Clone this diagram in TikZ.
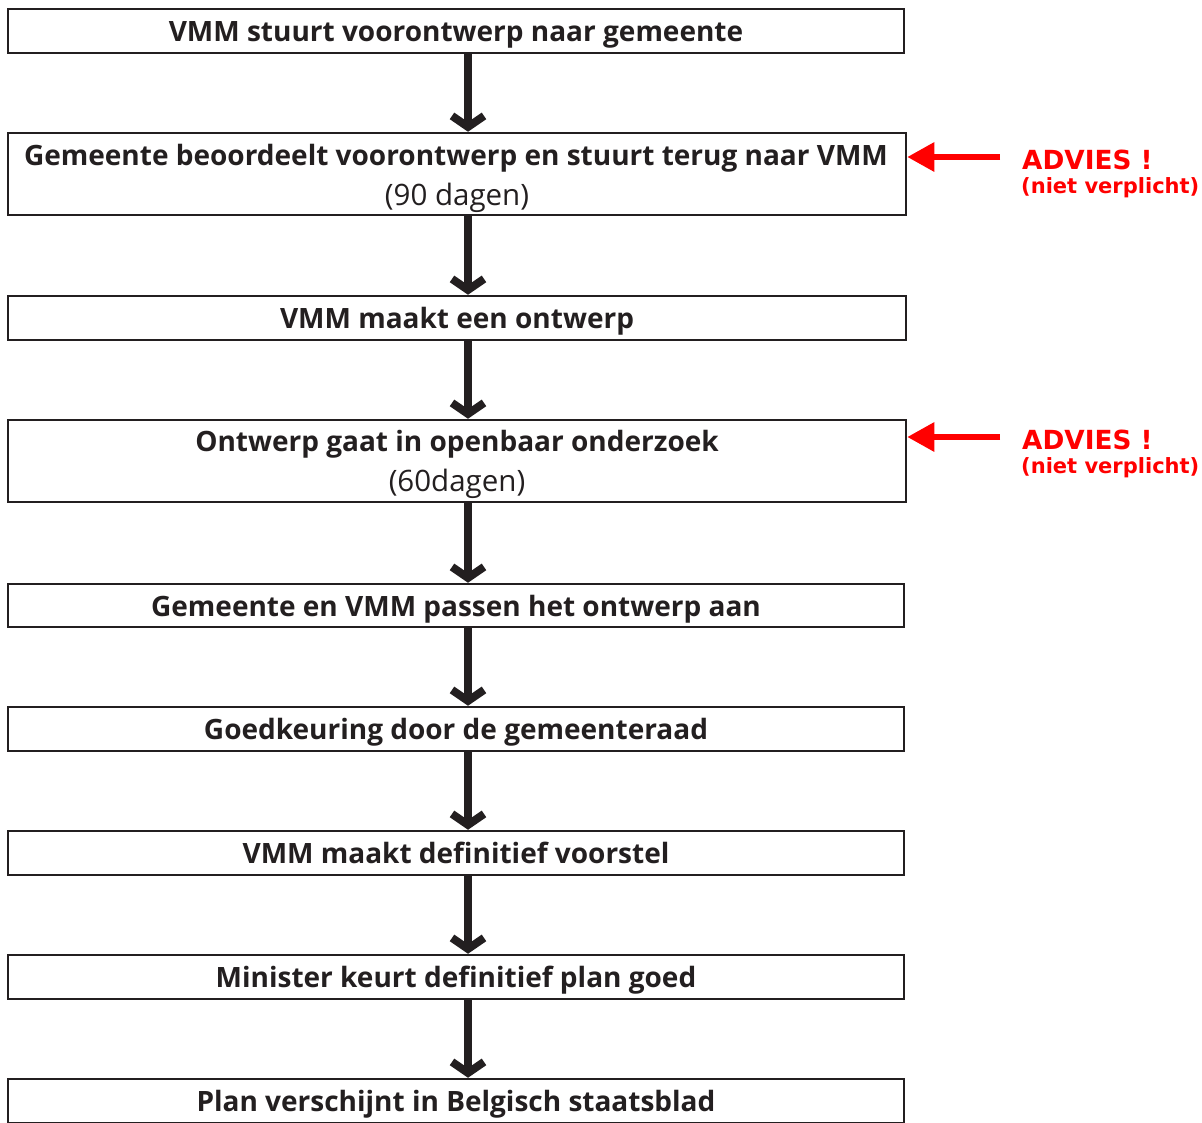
\documentclass[tikz,border=0pt]{standalone}
\usepackage{fontspec}
\setmainfont{Open Sans}
\newfontfamily\redfont{DejaVu Sans}
\usetikzlibrary{arrows.meta,calc}
\definecolor{ink}{HTML}{231F20}
\definecolor{advred}{HTML}{FF0000}
\tikzset{
  stepbox/.style={draw=ink, line width=2.5pt, minimum width=896pt, minimum height=44pt,
    inner sep=0pt},
  steptext/.style={anchor=base, inner sep=0pt, text=ink, font=\fontsize{28}{32}\selectfont\bfseries},
  subtext/.style={anchor=base, inner sep=0pt, text=ink, font=\fontsize{29.5}{33}\selectfont\mdseries},
  flowarrow/.style={draw=ink, line width=8pt,
    -{Straight Barb[length=11pt,width=32pt,line width=8pt]}},
  advarrow/.style={draw=advred, line width=6pt, -{Triangle[length=27pt,width=28pt]}},
  advbig/.style={text=advred, anchor=base west, inner sep=0pt, font=\redfont\bfseries\fontsize{26.3}{30}\selectfont},
  advsmall/.style={text=advred, anchor=base west, inner sep=0pt, font=\redfont\bfseries\fontsize{21}{25}\selectfont}
}
\begin{document}
\begin{tikzpicture}[x=1pt,y=-1pt]
\useasboundingbox (0,0) rectangle (1202,1122);
\clip (0,0) rectangle (1202,1122);
% boxes
\node[stepbox] (b1) at (456,31) {};
\node[stepbox, minimum width=898pt, minimum height=82pt] (b2) at (457,174) {};
\node[stepbox, minimum width=898pt] (b3) at (457,318) {};
\node[stepbox, minimum width=898pt, minimum height=82pt] (b4) at (457,461) {};
\node[stepbox, minimum height=43pt] (b5) at (456,605.5) {};
\node[stepbox] (b6) at (456,729) {};
\node[stepbox] (b7) at (456,853) {};
\node[stepbox] (b8) at (456,977) {};
\node[stepbox] (b9) at (456,1101) {};
% texts
\node[steptext] (t1) at (456,41) {VMM stuurt voorontwerp naar gemeente};
\node[steptext] (t2) at (456,165.5) {Gemeente beoordeelt voorontwerp en stuurt terug naar VMM};
\node[subtext] (s2) at (457,205) {(90 dagen)};
\node[steptext] (t3) at (457,328.5) {VMM maakt een ontwerp};
\node[steptext] (t4) at (457,451.5) {Ontwerp gaat in openbaar onderzoek};
\node[subtext] (s4) at (457,491.5) {(60dagen)};
\node[steptext] (t5) at (456,616) {Gemeente en VMM passen het ontwerp aan};
\node[steptext] (t6) at (456,739.5) {Goedkeuring door de gemeenteraad};
\node[steptext] (t7) at (456,863.5) {VMM maakt definitief voorstel};
\node[steptext] (t8) at (456,987.5) {Minister keurt definitief plan goed};
\node[steptext] (t9) at (456,1111.5) {Plan verschijnt in Belgisch staatsblad};
% flow arrows
\coordinate (ax) at (468,0);
\foreach \a/\b in {b1/b2,b2/b3,b3/b4,b4/b5,b5/b6,b6/b7,b7/b8,b8/b9}{
  \draw[flowarrow] (\a.south -| ax) -- (\b.north -| ax);
}
% advice arrows
\coordinate (r1) at (1000,157);
\coordinate (r2) at (1000,437);
\draw[advarrow] (r1) -- (b2.east |- r1);
\draw[advarrow] (r2) -- (b4.east |- r2);
\node[advbig] (a1) at (1022,169.5) {ADVIES !};
\node[advsmall] (n1) at (1021,193.5) {(niet verplicht)};
\node[advbig] (a2) at (1022,449.5) {ADVIES !};
\node[advsmall] (n2) at (1021,473.5) {(niet verplicht)};
\end{tikzpicture}
\end{document}
